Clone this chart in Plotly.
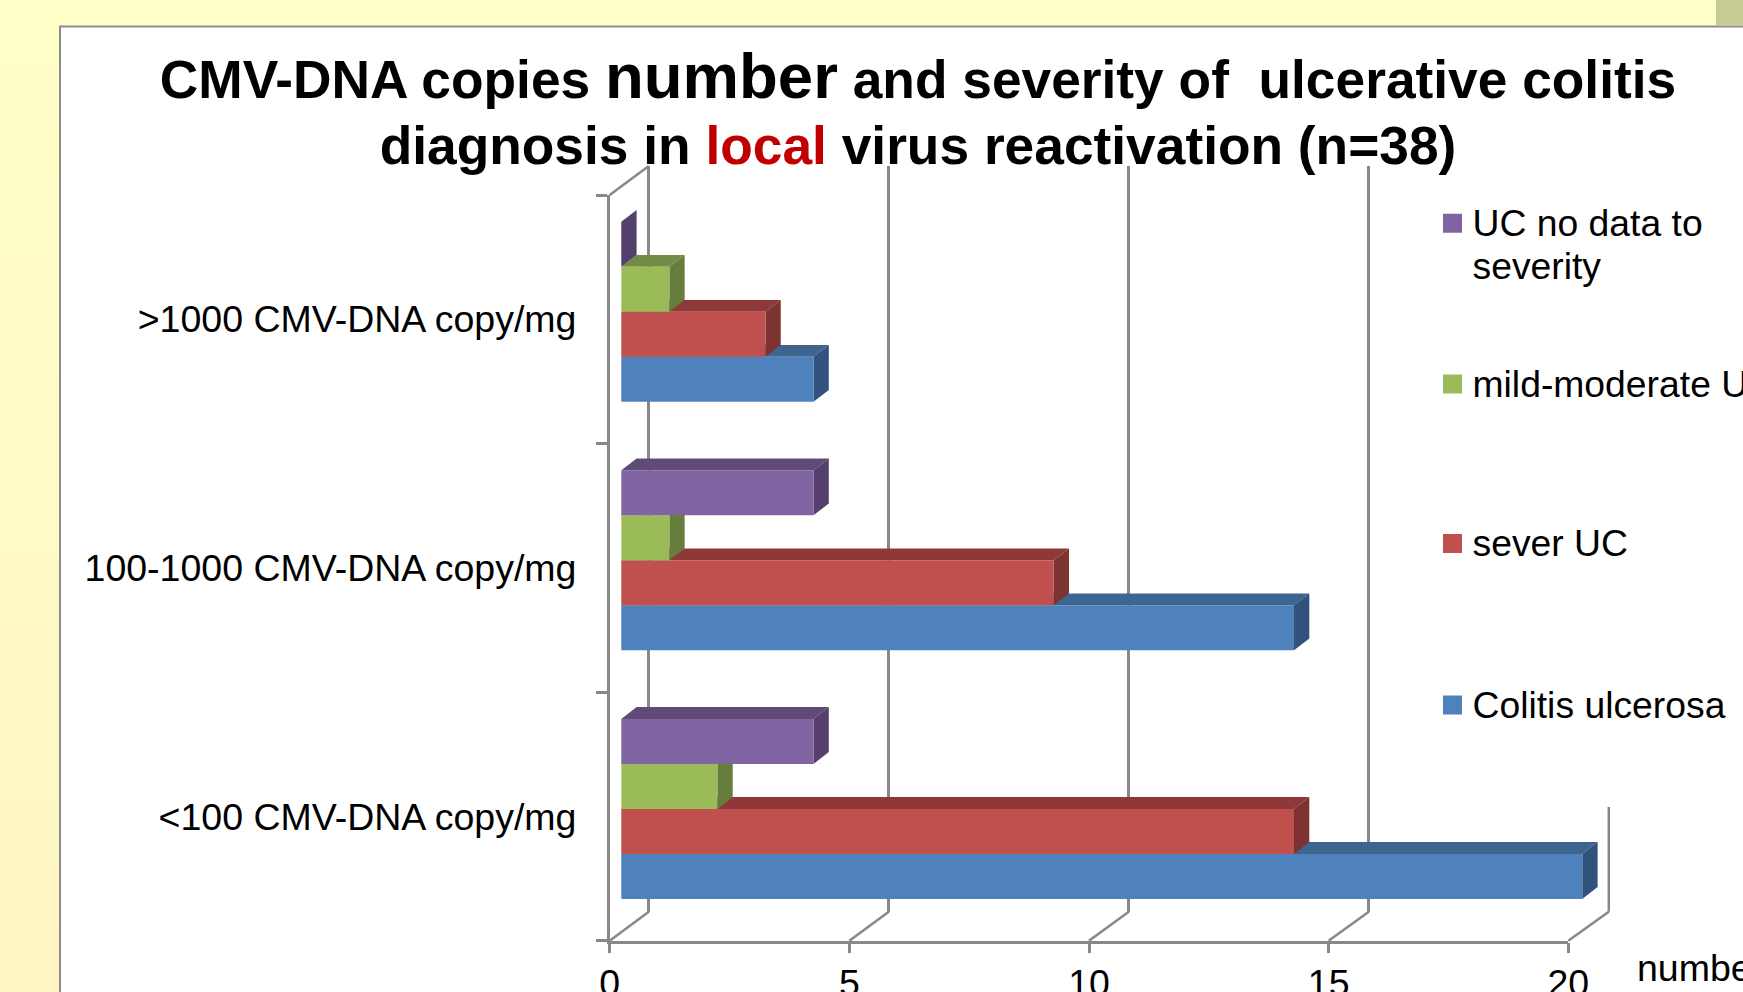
import plotly.graph_objects as go

# --- chart values ---
categories = ['<100 CMV-DNA copy/mg', '100-1000 CMV-DNA copy/mg', '>1000 CMV-DNA copy/mg']
series_names = ['Colitis ulcerosa', 'sever UC', 'mild-moderate UC', 'UC no data to severity']
legend_labels = ['Colitis ulcerosa', 'sever UC', 'mild-moderate UC', ' <br>UC no data to<br>severity']
colitis_ulcerosa = [20, 14, 4]
sever_uc = [14, 9, 3]
mild_moderate_uc = [2, 1, 1]
uc_no_data = [4, 4, 0]
x_ticks = [0, 5, 10, 15, 20]

series_values = [colitis_ulcerosa, sever_uc, mild_moderate_uc, uc_no_data]
front_colors = ['#4F81BD', '#C0504D', '#9BBB59', '#8064A2']
top_colors = ['#3E6490', '#8E3937', '#748B45', '#5F4A78']
side_colors = ['#31527D', '#7D3332', '#677D3B', '#553F6C']

W, H = 1743, 992
GRID = '#888888'
FONT = 'Liberation Sans, Arial, sans-serif'


def fx(px):
    return px / W


def fy(py):
    return 1 - py / H


# pixel geometry of the fake 3D box
X0, X20 = 609.7, 1568.3
Y_TOP, Y_BOT = 195.0, 940.7
BAR_X0, BAR_UNIT = 621.3, 48.05  # bars sit a little behind the front axis
BAR_DY = 7.5
BACK_X0, BACK_UNIT = 648.8, 48.0  # back wall with the gridlines
BACK_DY = 29.0
UNIT = (X20 - X0) / 20
BAND = (Y_BOT - Y_TOP) / 3
BAR_PX = 45.0
BARGAP = 1 - 4 * BAR_PX / BAND
DEPTH_X = 15.3 / BAR_UNIT       # bar depth, data units
DEPTH_Y = 11.8 / BAND
X3_MIN, X3_MAX = -1, 22         # room so the depth faces and floor lines are not clipped

fig = go.Figure()

# back wall holds the gridlines, it is the first subplot so it paints first
fig.add_trace(go.Scatter(x=[0], y=[0], mode='none', xaxis='x', yaxis='y',
                         showlegend=False, hoverinfo='skip'))

# front axes with the labels
fig.add_trace(go.Scatter(x=[0, 0, 0], y=categories, mode='none', xaxis='x2', yaxis='y2',
                         showlegend=False, hoverinfo='skip'))

# bars
ypos = list(range(len(categories)))
for i, name in enumerate(series_names):
    fig.add_trace(go.Bar(
        x=series_values[i], y=ypos, orientation='h', name=name,
        marker=dict(color=front_colors[i], line=dict(width=0)),
        xaxis='x3', yaxis='y3', showlegend=False,
    ))

# legend entries, one legend each because they are spread far apart
legend_y = [705, 543.6, 384, 223.5]
for i, label in enumerate(legend_labels):
    lid = 'legend' if i == 0 else f'legend{i + 1}'
    styled = '<br>'.join(f'<span style="font-size:37.3px">{part}</span>' for part in label.split('<br>'))
    fig.add_trace(go.Scatter(
        x=[None], y=[None], mode='markers', name=styled, legend=lid,
        xaxis='x3', yaxis='y3', hoverinfo='skip',
        marker=dict(symbol='square', size=16, color=front_colors[i],
                    line=dict(color=front_colors[i], width=3)),
    ))

# slide background fades slightly towards the bottom
shapes = []
n_bands = 16
for k in range(n_bands):
    g = round(255 - 10 * k / (n_bands - 1))
    b = round(200 - 4 * k / (n_bands - 1))
    shapes.append(dict(type='rect', xref='paper', yref='paper', x0=0, x1=1,
                       y0=1 - (k + 1) / n_bands, y1=1 - k / n_bands,
                       fillcolor=f'rgb(255,{g},{b})', line=dict(width=0), layer='below'))
shapes += [
    dict(type='rect', xref='paper', yref='paper', x0=fx(60), x1=1.01, y0=-0.01, y1=fy(26.5),
         fillcolor='white', line=dict(color='#8C8C8C', width=2), layer='below'),
    dict(type='rect', xref='paper', yref='paper', x0=fx(1716), x1=1, y0=fy(25), y1=1,
         fillcolor='#C6CC92', line=dict(width=0), layer='below'),
]

# sides and tops of the bars, computed from the values
bar_h = (1 - BARGAP) / 4
for i in range(4):
    for j, v in enumerate(series_values[i]):
        bottom = j - 2 * bar_h + i * bar_h
        top = bottom + bar_h
        if v > 0:
            shapes.append(dict(
                type='path', xref='x3', yref='y3', layer='between',
                path=f'M 0 {top} L {v} {top} L {v + DEPTH_X} {top + DEPTH_Y} L {DEPTH_X} {top + DEPTH_Y} Z',
                fillcolor=top_colors[i], line=dict(width=0)))
        shapes.append(dict(
            type='path', xref='x3', yref='y3', layer='between',
            path=f'M {v} {bottom} L {v + DEPTH_X} {bottom + DEPTH_Y} L {v + DEPTH_X} {top + DEPTH_Y} L {v} {top} Z',
            fillcolor=side_colors[i], line=dict(width=0)))

# floor lines and left wall top edge, they run from the front axis to the back wall
grid_line = dict(color=GRID, width=2.5)
for t in x_ticks:
    shapes.append(dict(type='line', xref='paper', yref='paper',
                       x0=fx(X0 + t * UNIT), x1=fx(BACK_X0 + t * BACK_UNIT),
                       y0=fy(Y_BOT), y1=fy(Y_BOT - BACK_DY), line=grid_line, layer='below'))
shapes.append(dict(type='line', xref='paper', yref='paper', x0=fx(X0), x1=fx(BACK_X0),
                   y0=fy(Y_TOP), y1=fy(Y_TOP - BACK_DY), line=grid_line, layer='below'))
# last gridline stops short in the original
shapes.append(dict(type='line', xref='x', yref='paper', x0=20, x1=20, y0=fy(807), y1=fy(Y_BOT - BACK_DY),
                   line=grid_line, layer='between'))

hidden = dict(showgrid=False, zeroline=False, showline=False, showticklabels=False, ticks='')

title_size = 53.3
fig.update_layout(
    width=W, height=H,
    margin=dict(l=0, r=0, t=0, b=0, autoexpand=False),
    paper_bgcolor='#FFFFC8',
    plot_bgcolor='rgba(0,0,0,0)',
    font=dict(family=FONT, size=37.5, color='black'),
    barmode='group', bargap=BARGAP, bargroupgap=0,
    hovermode='closest',
    # the outer size only sets the line spacing, the spans set the glyph size
    title=dict(
        text=f'<span style="font-size:{title_size}px">CMV-DNA copies </span>'
             '<span style="font-size:63.5px">number</span>'
             f'<span style="font-size:{title_size}px"> and severity of  ulcerative colitis</span><br>'
             f'<span style="font-size:{title_size}px">diagnosis in </span>'
             f'<span style="font-size:{title_size}px;color:#C00000">local</span>'
             f'<span style="font-size:{title_size}px"> virus reactivation (n=38)</span>',
        x=918 / W, xanchor='center', y=fy(98), yanchor='bottom', yref='container',
        font=dict(family=FONT, size=51, color='black', weight='bold'),
        automargin=False,
    ),
    xaxis=dict(domain=[fx(BACK_X0 - BACK_UNIT), fx(BACK_X0 + 21 * BACK_UNIT)], range=[-1, 21], tickvals=x_ticks[:-1],
               showgrid=True, gridcolor=GRID, gridwidth=2.5, zeroline=False, showline=False,
               showticklabels=False, ticks='', anchor='y'),
    yaxis=dict(domain=[fy(Y_BOT - BACK_DY), fy(Y_TOP - BACK_DY)], range=[0, 1], anchor='x', **hidden),
    xaxis2=dict(domain=[fx(X0), fx(X20)], range=[0, 20], tickvals=x_ticks, anchor='y2',
                showgrid=False, zeroline=False, showline=True, linecolor=GRID, linewidth=2.5,
                ticks='outside', ticklen=10, tickwidth=2.5, tickcolor=GRID, ticklabelstandoff=-2),
    yaxis2=dict(domain=[fy(Y_BOT), fy(Y_TOP)], type='category', categoryorder='array', categoryarray=categories,
                range=[-0.5, 2.5], anchor='x2', tickson='boundaries', showgrid=False, zeroline=False,
                showline=True, linecolor=GRID, linewidth=2.5, ticks='outside', ticklen=11, tickwidth=2.5,
                tickcolor=GRID, ticklabelstandoff=23),
    xaxis3=dict(domain=[fx(BAR_X0 + X3_MIN * BAR_UNIT), fx(BAR_X0 + X3_MAX * BAR_UNIT)], range=[X3_MIN, X3_MAX],
                anchor='y3', **hidden),
    yaxis3=dict(domain=[fy(Y_BOT - BAR_DY), fy(Y_TOP - BAR_DY)], range=[-0.5, 2.5], anchor='x3', **hidden),
    shapes=shapes,
    annotations=[dict(text='number', xref='paper', yref='paper', x=fx(1635), y=fy(945), xanchor='left',
                      yanchor='top', showarrow=False)],
)

legend_style = dict(x=fx(1434.5), xanchor='left', yanchor='middle', bgcolor='rgba(0,0,0,0)', indentation=-2,
                    borderwidth=0, itemsizing='trace', font=dict(size=33), itemclick=False, itemdoubleclick=False)
fig.update_layout(
    legend=dict(y=fy(legend_y[0]), **legend_style),
    legend2=dict(y=fy(legend_y[1]), **legend_style),
    legend3=dict(y=fy(legend_y[2]), **legend_style),
    legend4=dict(y=fy(legend_y[3]), **legend_style),
)

fig.write_html("out.html", config=dict(displayModeBar=False),
               post_script="document.body.style.margin='0';document.body.style.overflow='hidden';")
